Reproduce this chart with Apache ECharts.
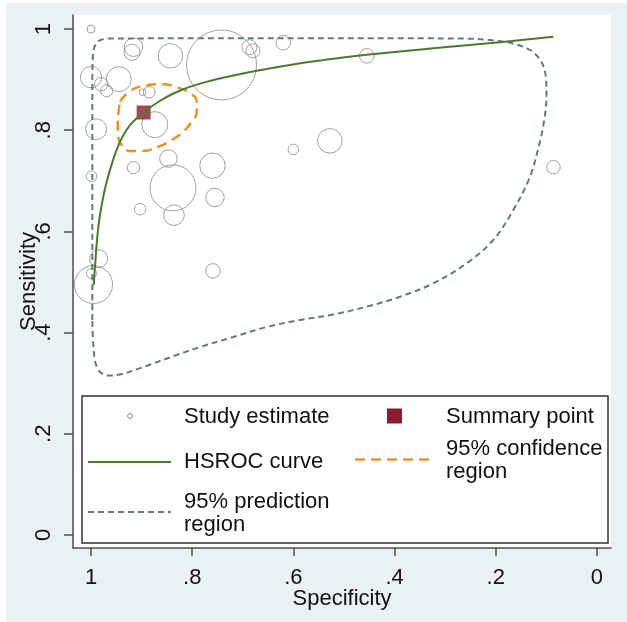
<!DOCTYPE html>
<html>
<head>
<meta charset="utf-8">
<script src="https://cdn.jsdelivr.net/npm/echarts@6/dist/echarts.min.js"></script>
<style>
html, body { margin: 0; padding: 0; background: #ffffff; }
#frame { position: absolute; left: 6px; top: 3px; width: 621px; height: 619px; background: #e9f1f4; }
#chart { position: absolute; left: 0; top: 0; width: 627px; height: 622px; }
</style>
</head>
<body>
<div id="frame"></div>
<div id="chart"></div>
<script>
// Individual studies: specificity, sensitivity and relative study weight
const studySpec = [1.000, 0.916, 0.919, 0.843, 0.742, 0.687, 0.680, 0.620, 0.455, 0.528, 0.086,
  0.600, 0.760, 1.000, 0.945, 0.980, 0.969, 0.898, 0.885, 0.874, 0.990, 0.999, 0.847, 0.916,
  0.838, 0.755, 0.903, 0.836, 0.759, 0.985, 0.995, 0.999];
const studySens = [1.000, 0.964, 0.954, 0.947, 0.929, 0.964, 0.957, 0.973, 0.947, 0.779, 0.727,
  0.762, 0.730, 0.905, 0.901, 0.891, 0.878, 0.875, 0.875, 0.811, 0.802, 0.709, 0.744, 0.726,
  0.686, 0.667, 0.644, 0.632, 0.522, 0.546, 0.495, 0.517];
const studyWeight = [16, 86, 64, 151, 1225, 56, 49, 53, 53, 151, 45,
  28, 161, 114, 156, 45, 36, 11, 34, 169, 110, 28, 76, 38,
  529, 85, 34, 106, 53, 81, 361, 25];

// Summary operating point
const summarySpec = 0.896;
const summarySens = 0.835;

// HSROC curve
const hsrocSpec = [0.9947, 0.9907, 0.9862, 0.9796, 0.9698, 0.9565, 0.9433, 0.930, 0.917, 0.894,
  0.864, 0.825, 0.772, 0.719, 0.6725, 0.6067, 0.541, 0.455, 0.3235, 0.1917, 0.0863];
const hsrocSens = [0.4941, 0.550, 0.6028, 0.6488, 0.695, 0.741, 0.776, 0.800, 0.8168, 0.8366,
  0.8577, 0.8780, 0.8955, 0.9080, 0.9175, 0.9290, 0.9385, 0.9490, 0.9620, 0.9740, 0.9845];

// 95% confidence region around the summary point
const confSpec = [0.9427, 0.9229, 0.8933, 0.8603, 0.8275, 0.8043, 0.7911, 0.7911, 0.801, 0.8176,
  0.8405, 0.867, 0.8998, 0.9229, 0.9393, 0.946, 0.9472, 0.946, 0.9427];
const confSens = [0.8563, 0.8775, 0.888, 0.8907, 0.884, 0.8729, 0.8563, 0.8366, 0.8168, 0.797,
  0.7806, 0.7674, 0.7589, 0.7589, 0.7708, 0.7872, 0.8103, 0.8334, 0.8563];

// 95% prediction region
const predSpec = [0.9974, 0.9974, 0.9974, 0.9974, 0.996, 0.992, 0.9828, 0.9625, 0.7846, 0.587,
  0.3893, 0.2575, 0.2115, 0.166, 0.1324, 0.1107, 0.1008, 0.0998, 0.1028, 0.1126, 0.1324, 0.1654,
  0.2049, 0.2575, 0.3235, 0.3893, 0.4551, 0.5212, 0.587, 0.6528, 0.7188, 0.7846, 0.8306, 0.8966,
  0.9427, 0.9664, 0.9822, 0.9911, 0.9955, 0.9974];
const predSens = [0.4249, 0.5632, 0.7609, 0.8992, 0.9486, 0.9674, 0.9773, 0.9812, 0.9816, 0.9816,
  0.9816, 0.9810, 0.9783, 0.9713, 0.9585, 0.9368, 0.9032, 0.8696, 0.830, 0.7783, 0.7081, 0.6423,
  0.583, 0.537, 0.4974, 0.4709, 0.4512, 0.4358, 0.4249, 0.4111, 0.3913, 0.3715, 0.3557, 0.332,
  0.3172, 0.3152, 0.3221, 0.3399, 0.3755, 0.4249];

// Axis ticks (shared by both axes)
const tickValues = [0, 0.2, 0.4, 0.6, 0.8, 1];

// Legend entries
const legendLabels = ['Study estimate', 'Summary point', 'HSROC curve',
  '95% confidence\nregion', '95% prediction\nregion'];

const FONT = 'Liberation Sans, Arial, Helvetica, sans-serif';
const FS = 22;
const C_STUDY = '#8a8a8a';
const C_SUMMARY = '#8c1d2e';
const C_HSROC = '#4a7a2b';
const C_CONF = '#e8922a';
const C_PRED = '#647a7c';
const C_AXIS = '#4d4d4d';

const zip = (a, b) => a.map((v, i) => [v, b[i]]);
const tickFmt = v => (v === 0 ? '0' : v === 1 ? '1' : String(+v.toFixed(1)).replace(/^0/, ''));

const axisCommon = {
  type: 'value',
  splitLine: { show: false },
  axisLine: { show: true, onZero: false, lineStyle: { color: C_AXIS, width: 1.5 } },
  nameTextStyle: { fontFamily: FONT, fontSize: FS, color: '#111' },
  nameMoveOverlap: false
};

const chart = echarts.init(document.getElementById('chart'), null, { renderer: 'canvas' });

const legendText = (x, y, text, lh) => ({
  type: 'text', x: x, y: y, z: 101,
  style: { text: text, fontFamily: FONT, fontSize: FS, fill: '#111',
    verticalAlign: 'middle', align: 'left', lineHeight: lh || 22 }
});

chart.setOption({
  animation: false,
  grid: { left: 73, top: 15, width: 538, height: 533, show: true, backgroundColor: '#ffffff',
    borderWidth: 0, containLabel: false, outerBoundsMode: 'none' },
  xAxis: Object.assign({}, axisCommon, {
    inverse: true, min: -0.0277, max: 1.0356, position: 'bottom',
    axisTick: { show: true, length: 8, customValues: tickValues, lineStyle: { color: C_AXIS, width: 1.5 } },
    axisLabel: { customValues: tickValues, formatter: tickFmt, margin: 19,
      fontFamily: FONT, fontSize: FS, color: '#111' },
    name: 'Specificity', nameLocation: 'middle', nameGap: 40
  }),
  yAxis: Object.assign({}, axisCommon, {
    min: -0.0257, max: 1.0277, position: 'left',
    axisTick: { show: true, length: 9, customValues: tickValues, lineStyle: { color: C_AXIS, width: 1.5 } },
    axisLabel: { customValues: tickValues, formatter: tickFmt, margin: 18, rotate: 90,
      fontFamily: FONT, fontSize: FS, color: '#111' },
    name: 'Sensitivity', nameLocation: 'middle', nameRotate: 90, nameGap: 33
  }),
  series: [
    {
      name: 'Study estimate', type: 'scatter', z: 2,
      data: studySpec.map((s, i) => [s, studySens[i], studyWeight[i]]),
      symbol: 'circle',
      symbolSize: v => 2 * Math.sqrt(v[2]),
      itemStyle: { color: 'rgba(0,0,0,0)', borderColor: C_STUDY, borderWidth: 1 },
      silent: true
    },
    {
      name: '95% prediction region', type: 'line', z: 3,
      data: zip(predSpec, predSens), showSymbol: false, smooth: 0.35,
      lineStyle: { color: C_PRED, width: 2, type: [6, 4] }
    },
    {
      name: '95% confidence region', type: 'line', z: 4,
      data: zip(confSpec, confSens), showSymbol: false, smooth: 0.5,
      lineStyle: { color: C_CONF, width: 2.5, type: [10, 6] }
    },
    {
      name: 'Summary point', type: 'scatter', z: 5,
      data: [[summarySpec, summarySens]], symbol: 'rect', symbolSize: 14,
      itemStyle: { color: C_SUMMARY }
    },
    {
      name: 'HSROC curve', type: 'line', z: 6,
      data: zip(hsrocSpec, hsrocSens), showSymbol: false, smooth: 0.5,
      lineStyle: { color: C_HSROC, width: 2 }
    }
  ],
  graphic: [
    { type: 'rect', shape: { x: 82, y: 396, width: 526, height: 147 },
      style: { fill: '#ffffff', stroke: '#333333', lineWidth: 1.5 }, z: 100 },
    { type: 'circle', shape: { cx: 130, cy: 416, r: 2.5 },
      style: { fill: 'none', stroke: C_STUDY, lineWidth: 1 }, z: 101 },
    legendText(184, 417, legendLabels[0]),
    { type: 'rect', shape: { x: 387, y: 408.5, width: 15, height: 15 },
      style: { fill: C_SUMMARY }, z: 101 },
    legendText(446, 417, legendLabels[1]),
    { type: 'line', shape: { x1: 88, y1: 462, x2: 171, y2: 462 },
      style: { stroke: C_HSROC, lineWidth: 2 }, z: 101 },
    legendText(184, 462, legendLabels[2]),
    { type: 'line', shape: { x1: 355, y1: 459.5, x2: 435, y2: 459.5 },
      style: { stroke: C_CONF, lineWidth: 2.5, lineDash: [10, 6] }, z: 101 },
    legendText(446, 460.5, legendLabels[3], 22.5),
    { type: 'line', shape: { x1: 88, y1: 512, x2: 171, y2: 512 },
      style: { stroke: C_PRED, lineWidth: 2, lineDash: [6, 4] }, z: 101 },
    legendText(184, 513.5, legendLabels[4], 23.5)
  ]
});
</script>
</body>
</html>
